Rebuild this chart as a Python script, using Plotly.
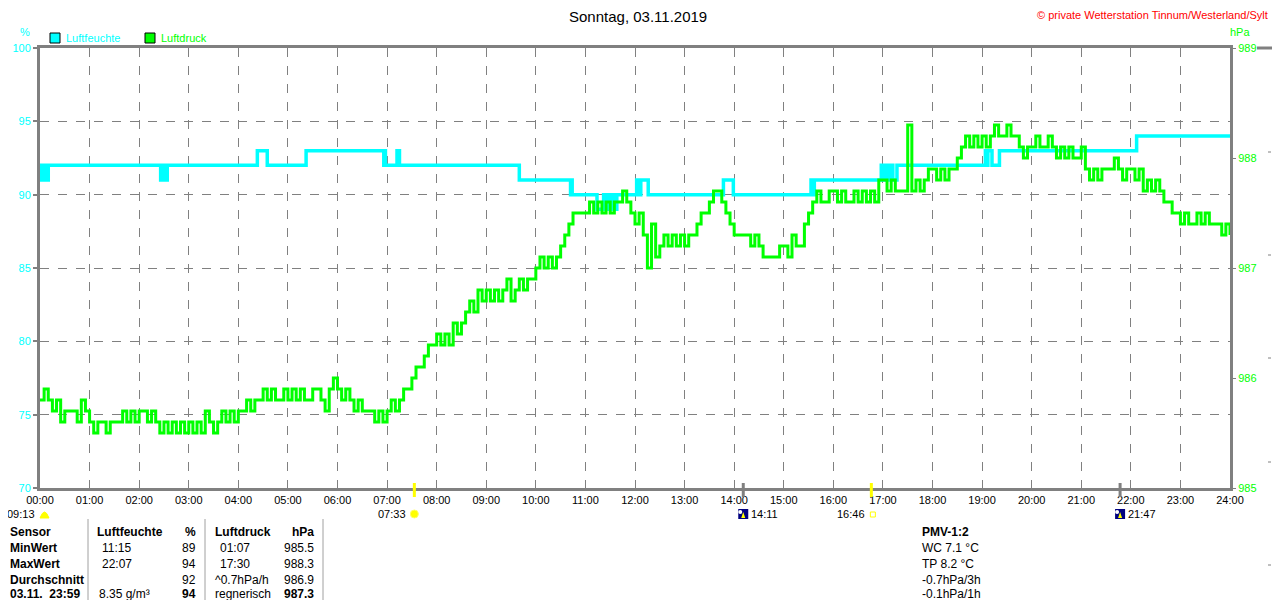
import plotly.graph_objects as go

# ---------------- data ----------------
hour_labels = ["%02d:00" % h for h in range(25)]
humidity_ticks = [70, 75, 80, 85, 90, 95, 100]
pressure_ticks = [985, 986, 987, 988, 989]

# Luftfeuchte (%) - change points (step chart)
humidity_times = [
    "00:00", "00:02", "00:03", "00:05", "00:06", "00:08", "00:09", "00:10",
    "02:26", "02:28", "02:31", "02:34",
    "04:23", "04:35",
    "05:22", "06:56", "06:57", "06:58", "07:12", "07:15",
    "09:40", "10:42", "10:43", "10:44",
    "11:14", "11:22", "11:24", "11:26", "11:29", "11:30", "11:34", "11:35", "11:37", "11:38",
    "12:02", "12:05", "12:07", "12:16",
    "13:47", "13:59",
    "15:33", "15:35", "15:37",
    "16:58", "17:00", "17:02", "17:04", "17:06", "17:08", "17:10", "17:12", "17:17",
    "19:04", "19:06", "19:07", "19:12", "19:21",
    "22:07", "24:00",
]
humidity_values = [
    91, 92, 91, 92, 91, 92, 91, 92,
    91, 92, 91, 92,
    93, 92,
    93, 92, 93, 92, 93, 92,
    91, 90, 91, 90,
    89, 90, 89, 90, 89, 90, 89, 90, 89, 90,
    91, 90, 91, 90,
    91, 90,
    91, 90, 91,
    92, 91, 92, 91, 92, 91, 92, 91, 92,
    93, 92, 93, 92, 93,
    94, 94,
]

# Luftdruck (hPa) - one reading every 5 minutes, 00:00 ... 24:00
pressure_step_min = 5
pressure_values = [
    985.8, 985.9, 985.8, 985.7, 985.8, 985.6, 985.7, 985.7, 985.7, 985.6, 985.8, 985.7,  # 00
    985.6, 985.5, 985.6, 985.6, 985.5, 985.6, 985.6, 985.6, 985.7, 985.6, 985.7, 985.6,  # 01
    985.7, 985.7, 985.6, 985.7, 985.6, 985.5, 985.6, 985.5, 985.6, 985.5, 985.6, 985.5,  # 02
    985.6, 985.5, 985.6, 985.5, 985.7, 985.6, 985.5, 985.6, 985.7, 985.6, 985.7, 985.6,  # 03
    985.7, 985.7, 985.8, 985.7, 985.8, 985.8, 985.9, 985.8, 985.9, 985.8, 985.8, 985.9,  # 04
    985.8, 985.9, 985.8, 985.9, 985.8, 985.8, 985.9, 985.9, 985.8, 985.7, 985.9, 986.0,  # 05
    985.9, 985.8, 985.9, 985.8, 985.7, 985.8, 985.7, 985.7, 985.7, 985.6, 985.7, 985.6,  # 06
    985.7, 985.8, 985.7, 985.8, 985.9, 985.9, 986.0, 986.1, 986.1, 986.2, 986.3, 986.3,  # 07
    986.4, 986.3, 986.4, 986.3, 986.5, 986.4, 986.5, 986.6, 986.7, 986.6, 986.8, 986.7,  # 08
    986.8, 986.7, 986.8, 986.7, 986.8, 986.9, 986.7, 986.8, 986.9, 986.8, 986.9, 986.9,  # 09
    987.0, 987.1, 987.0, 987.1, 987.0, 987.1, 987.2, 987.3, 987.4, 987.5, 987.5, 987.5,  # 10
    987.5, 987.6, 987.5, 987.6, 987.5, 987.6, 987.5, 987.6, 987.6, 987.7, 987.6, 987.5,  # 11
    987.4, 987.5, 987.3, 987.0, 987.4, 987.1, 987.2, 987.3, 987.2, 987.3, 987.2, 987.3,  # 12
    987.2, 987.3, 987.3, 987.4, 987.5, 987.5, 987.6, 987.7, 987.7, 987.6, 987.5, 987.4,  # 13
    987.3, 987.3, 987.3, 987.3, 987.2, 987.3, 987.2, 987.1, 987.1, 987.1, 987.1, 987.2,  # 14
    987.2, 987.1, 987.3, 987.2, 987.2, 987.4, 987.5, 987.6, 987.7, 987.6, 987.6, 987.7,  # 15
    987.7, 987.6, 987.7, 987.6, 987.6, 987.7, 987.6, 987.7, 987.6, 987.7, 987.6, 987.8,  # 16
    987.8, 987.7, 987.8, 987.7, 987.7, 987.7, 988.3, 987.7, 987.8, 987.7, 987.8, 987.9,  # 17
    987.9, 987.8, 987.9, 987.8, 987.9, 987.9, 988.0, 988.1, 988.2, 988.1, 988.2, 988.1,  # 18
    988.2, 988.1, 988.2, 988.3, 988.2, 988.2, 988.3, 988.2, 988.2, 988.1, 988.0, 988.1,  # 19
    988.1, 988.2, 988.1, 988.1, 988.2, 988.1, 988.0, 988.1, 988.0, 988.1, 988.0, 988.0,  # 20
    988.1, 987.9, 987.8, 987.9, 987.8, 987.9, 987.9, 987.9, 988.0, 987.9, 987.8, 987.9,  # 21
    987.9, 987.8, 987.9, 987.7, 987.8, 987.7, 987.8, 987.7, 987.6, 987.6, 987.5, 987.5,  # 22
    987.4, 987.5, 987.4, 987.4, 987.5, 987.4, 987.5, 987.4, 987.4, 987.4, 987.3, 987.4,  # 23
    987.3,
]

# Sun / moon events below the axis
sunrise, sunset = "07:33", "16:46"
moonrise, moonset = "14:11", "21:47"
day_length = "09:13"

# Table
table_rows = ["Sensor", "MinWert", "MaxWert", "Durchschnitt", "03.11.  23:59"]
hum_col_time = ["Luftfeuchte", "11:15", "22:07", "", "8.35 g/m³"]
hum_col_val = ["%", "89", "94", "92", "94"]
prs_col_time = ["Luftdruck", "01:07", "17:30", "^0.7hPa/h", "regnerisch"]
prs_col_val = ["hPa", "985.5", "988.3", "986.9", "987.3"]
pmv_lines = ["PMV-1:2", "WC 7.1 °C", "TP 8.2 °C", "-0.7hPa/3h", "-0.1hPa/1h"]

# ---------------- helpers ----------------
CYAN = "#00FFFF"
GREEN = "#00FF00"
GRAY = "#808080"
FONT = "Liberation Sans, Arial, sans-serif"

OFF = 8                       # page body margin of the browser
W, H = 1280 - OFF, 600 - OFF  # figure size so that it ends at the window edge
L, R, T, B = 40, 1230, 48, 488  # plot area in screen pixels


def px(x):
    return (x - L) / (R - L)


def py(y):
    return (B - y) / (B - T)


def hours(s):
    h, m = s.split(":")
    return int(h) + int(m) / 60.0


hum_x = [hours(t) for t in humidity_times]
prs_x = [i * pressure_step_min / 60.0 for i in range(len(pressure_values))]

fig = go.Figure()
fig.add_trace(go.Scatter(x=prs_x, y=pressure_values, mode="lines", line=dict(color=GREEN, width=3, shape="hv"),
                         yaxis="y2", showlegend=False, hoverinfo="skip"))
fig.add_trace(go.Scatter(x=hum_x, y=humidity_values, mode="lines", line=dict(color=CYAN, width=3.5, shape="hv"),
                         yaxis="y", showlegend=False, hoverinfo="skip"))

fig.update_layout(
    width=W, height=H,
    margin=dict(l=L - OFF, r=1280 - R, t=T - OFF, b=600 - B, autoexpand=False),
    paper_bgcolor="white", plot_bgcolor="white",
    font=dict(family=FONT, size=11, color="black"),
    xaxis=dict(range=[0, 24], tickvals=list(range(25)), ticktext=hour_labels,
               showgrid=True, gridcolor=GRAY, griddash="dash", gridwidth=1,
               showline=True, linecolor=GRAY, linewidth=3, mirror=True,
               ticks="", tickfont=dict(size=11, color="black", family=FONT),
               zeroline=False, fixedrange=True),
    yaxis=dict(range=[70, 100], tickvals=humidity_ticks,
               showgrid=True, gridcolor=GRAY, griddash="dash", gridwidth=1,
               showline=True, linecolor=GRAY, linewidth=3, mirror=True,
               ticks="outside", ticklen=4, tickcolor=GRAY, tickwidth=2,
               tickfont=dict(size=11, color=CYAN, family=FONT), zeroline=False),
    yaxis2=dict(range=[985, 989], tickvals=pressure_ticks, overlaying="y", side="right",
                showgrid=False, showline=False, ticks="outside", ticklen=5, tickcolor=GRAY, tickwidth=1,
                tickfont=dict(size=11, color=GREEN, family=FONT), zeroline=False),
)

ann = []
shapes = []


def text(x, y, s, color="black", size=11, anchor="left", bold=False):
    if bold:
        s = "<b>%s</b>" % s
    ann.append(dict(x=px(x), y=py(y), xref="paper", yref="paper", text=s, showarrow=False,
                    xanchor=anchor, yanchor="middle", font=dict(color=color, size=size, family=FONT)))


# title & header texts
text(638, 17, "Sonntag, 03.11.2019", size=15, anchor="center")
text(1270, 15, "© private Wetterstation Tinnum/Westerland/Sylt", color="#FF0000", size=11, anchor="right")
text(25, 32, "%", color=CYAN, anchor="center")
text(1240, 32, "hPa", color=GREEN, anchor="center")

# legend
for x0, col, label in [(50, CYAN, "Luftfeuchte"), (145, GREEN, "Luftdruck")]:
    shapes.append(dict(type="rect", xref="paper", yref="paper", x0=px(x0), x1=px(x0 + 10), y0=py(43), y1=py(33),
                       fillcolor=col, line=dict(color="black", width=1)))
    text(x0 + 14, 38, label, color=col)

# sun / moon markers
for t, col in [(sunrise, "#FFFF00"), (sunset, "#FFFF00"), (moonrise, GRAY), (moonset, GRAY)]:
    shapes.append(dict(type="line", xref="x", yref="paper", x0=hours(t), x1=hours(t), y0=py(483), y1=py(497),
                       line=dict(color=col, width=3)))

text(37, 514, day_length, anchor="right")
shapes.append(dict(type="path", xref="paper", yref="paper",
                   path="M %f,%f Q %f,%f %f,%f Z" % (px(40), py(518), px(44.5), py(506), px(49), py(518)),
                   fillcolor="#FFFF00", line=dict(color="#FFFF00", width=1)))

# sunrise
sx = L + hours(sunrise) / 24 * (R - L)
text(sx - 6, 514, sunrise, anchor="right")
shapes.append(dict(type="circle", xref="paper", yref="paper", x0=px(sx - 4), x1=px(sx + 4), y0=py(518), y1=py(510),
                   fillcolor="#FFFF00", line=dict(color="#FFFF66", width=1)))
# sunset
ssx = L + hours(sunset) / 24 * (R - L)
text(ssx - 4, 514, sunset, anchor="right")
shapes.append(dict(type="rect", xref="paper", yref="paper", x0=px(ssx - 1), x1=px(ssx + 4), y0=py(517), y1=py(512),
                   fillcolor="white", line=dict(color="#FFFF00", width=1)))
# moon icons
for t in [moonrise, moonset]:
    mx = L + hours(t) / 24 * (R - L)
    shapes.append(dict(type="rect", xref="paper", yref="paper", x0=px(mx - 5), x1=px(mx + 5), y0=py(519), y1=py(509),
                       fillcolor="#000080", line=dict(width=0)))
    shapes.append(dict(type="path", xref="paper", yref="paper",
                       path="M %f,%f L %f,%f L %f,%f Z" % (px(mx - 2), py(518), px(mx + 2), py(518), px(mx), py(512)),
                       fillcolor="#FFFF00", line=dict(width=0)))
    shapes.append(dict(type="circle", xref="paper", yref="paper", x0=px(mx - 5), x1=px(mx - 1), y0=py(514), y1=py(510),
                       fillcolor="white", line=dict(width=0)))
    text(mx + 6, 514, t, anchor="left")

# table separators
for xs in [88, 205, 323]:
    shapes.append(dict(type="line", xref="paper", yref="paper", x0=px(xs), x1=px(xs), y0=py(519), y1=py(602),
                       line=dict(color="#A0A0A0", width=1)))

row_y = [532, 548, 564, 580, 594]
for i, y in enumerate(row_y):
    text(8, y, table_rows[i], size=12, bold=True)
    text(95 if i == 0 else (97 if i == 4 else 100), y, hum_col_time[i], size=12, bold=(i == 0))
    text(198, y, hum_col_val[i], size=12, anchor="right", bold=(i in (0, 4)))
    text(213 if i in (0, 3, 4) else 218, y, prs_col_time[i], size=12, bold=(i == 0))
    text(316, y, prs_col_val[i], size=12, anchor="right", bold=(i in (0, 4)))
    text(920, y, pmv_lines[i], size=12, bold=(i == 0))

# neighbouring panel edge (cut off at right)
shapes.append(dict(type="line", xref="paper", yref="paper", x0=px(1257), x1=px(1282), y0=py(48), y1=py(48),
                   line=dict(color=GRAY, width=3)))
shapes.append(dict(type="line", xref="paper", yref="paper", x0=px(1273), x1=px(1273), y0=py(560), y1=py(602),
                   line=dict(color="#A0A0A0", width=1)))
for yy in [152, 255, 358, 462, 565]:
    shapes.append(dict(type="line", xref="paper", yref="paper", x0=px(1268), x1=px(1280), y0=py(yy), y1=py(yy),
                       line=dict(color=GRAY, width=1, dash="dot")))

fig.update_layout(annotations=ann, shapes=shapes)
fig.write_html("out.html")
